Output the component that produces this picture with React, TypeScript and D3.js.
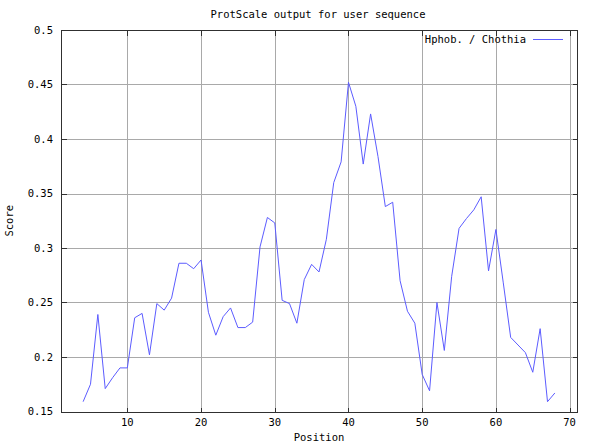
import React from "react";
import * as d3 from "d3";

const positions: number[] = [
  4, 5, 6, 7, 8, 9, 10, 11, 12, 13, 14, 15, 16, 17, 18, 19, 20, 21, 22, 23, 24, 25,
  26, 27, 28, 29, 30, 31, 32, 33, 34, 35, 36, 37, 38, 39, 40, 41, 42, 43, 44, 45,
  46, 47, 48, 49, 50, 51, 52, 53, 54, 55, 56, 57, 58, 59, 60, 61, 62, 63, 64, 65,
  66, 67, 68,
];

const scores: number[] = [
  0.159, 0.175, 0.239, 0.171, 0.181, 0.19, 0.19, 0.236, 0.24, 0.202, 0.249, 0.243,
  0.254, 0.286, 0.286, 0.281, 0.289, 0.241, 0.22, 0.237, 0.245, 0.227, 0.227, 0.232,
  0.301, 0.328, 0.323, 0.252, 0.249, 0.231, 0.271, 0.285, 0.278, 0.308, 0.36, 0.379,
  0.452, 0.43, 0.377, 0.423, 0.384, 0.338, 0.342, 0.27, 0.242, 0.231, 0.184, 0.169,
  0.25, 0.206, 0.274, 0.318, 0.327, 0.335, 0.347, 0.279, 0.317, 0.268, 0.218, 0.211,
  0.204, 0.186, 0.226, 0.159, 0.167,
];

const xTicks: number[] = [10, 20, 30, 40, 50, 60, 70];
const yTicks: number[] = [0.15, 0.2, 0.25, 0.3, 0.35, 0.4, 0.45, 0.5];

const title = "ProtScale output for user sequence";
const xLabel = "Position";
const yLabel = "Score";
const legendLabel = "Hphob. / Chothia";

export default function App() {
  const W = 600;
  const H = 448;
  const left = 61;
  const right = 577;
  const top = 30;
  const bottom = 411.5;

  const x = d3.scaleLinear().domain([1, 71]).range([left, right]);
  const y = d3.scaleLinear().domain([0.15, 0.5]).range([bottom, top]);

  const line = d3
    .line<number>()
    .x((_, i) => x(positions[i]))
    .y((d) => y(d));

  const font = "'DejaVu Sans Mono', monospace";
  const fs = 10.5;
  const gridColor = "#a9a9a9";
  const axisColor = "#303030";
  const lineColor = "#5c5cff";

  const px = (v: number) => Math.round(v) + 0.5;

  return (
    <svg
      width={W}
      height={H}
      style={{ position: "absolute", left: 0, top: 0, background: "#fff" }}
    >
      <rect x={0} y={0} width={W} height={H} fill="#fff" />
      {/* grid */}
      <g shapeRendering="crispEdges" stroke={gridColor} strokeWidth={1}>
        {xTicks.map((t) => (
          <line key={"gx" + t} x1={px(x(t))} x2={px(x(t))} y1={top} y2={bottom} />
        ))}
        {yTicks
          .filter((t) => t > 0.15 && t < 0.5)
          .map((t) => (
            <line key={"gy" + t} x1={left} x2={right} y1={px(y(t))} y2={px(y(t))} />
          ))}
      </g>
      {/* ticks */}
      <g shapeRendering="crispEdges" stroke={axisColor} strokeWidth={1}>
        {xTicks.map((t) => (
          <g key={"tx" + t}>
            <line x1={px(x(t))} x2={px(x(t))} y1={px(bottom)} y2={px(bottom) - 5} />
            <line x1={px(x(t))} x2={px(x(t))} y1={px(top)} y2={px(top) + 5} />
          </g>
        ))}
        {yTicks.map((t) => (
          <g key={"ty" + t}>
            <line x1={px(left)} x2={px(left) + 5} y1={px(y(t))} y2={px(y(t))} />
            <line x1={px(right)} x2={px(right) - 5} y1={px(y(t))} y2={px(y(t))} />
          </g>
        ))}
        <rect
          x={px(left)}
          y={px(top)}
          width={px(right) - px(left)}
          height={px(bottom) - px(top)}
          fill="none"
        />
      </g>
      {/* tick labels */}
      <g fontFamily={font} fontSize={fs} fill="#000">
        {yTicks.map((t) => (
          <text key={"ly" + t} x={53} y={y(t)} dy="0.35em" textAnchor="end">
            {d3.format("")(t)}
          </text>
        ))}
        {xTicks.map((t) => (
          <text key={"lx" + t} x={x(t)} y={426} textAnchor="middle">
            {t}
          </text>
        ))}
        <text x={(left + right) / 2} y={441} textAnchor="middle">
          {xLabel}
        </text>
        <text
          transform={`translate(13,${(top + bottom) / 2}) rotate(-90)`}
          textAnchor="middle"
        >
          {yLabel}
        </text>
        <text x={W / 2 + 18} y={18} textAnchor="middle">
          {title}
        </text>
        <text x={526} y={43} textAnchor="end">
          {legendLabel}
        </text>
      </g>
      <line x1={533} x2={563} y1={39.5} y2={39.5} stroke={lineColor} strokeWidth={1} />
      {/* data line */}
      <path d={line(scores) || ""} fill="none" stroke={lineColor} strokeWidth={1} />
    </svg>
  );
}
